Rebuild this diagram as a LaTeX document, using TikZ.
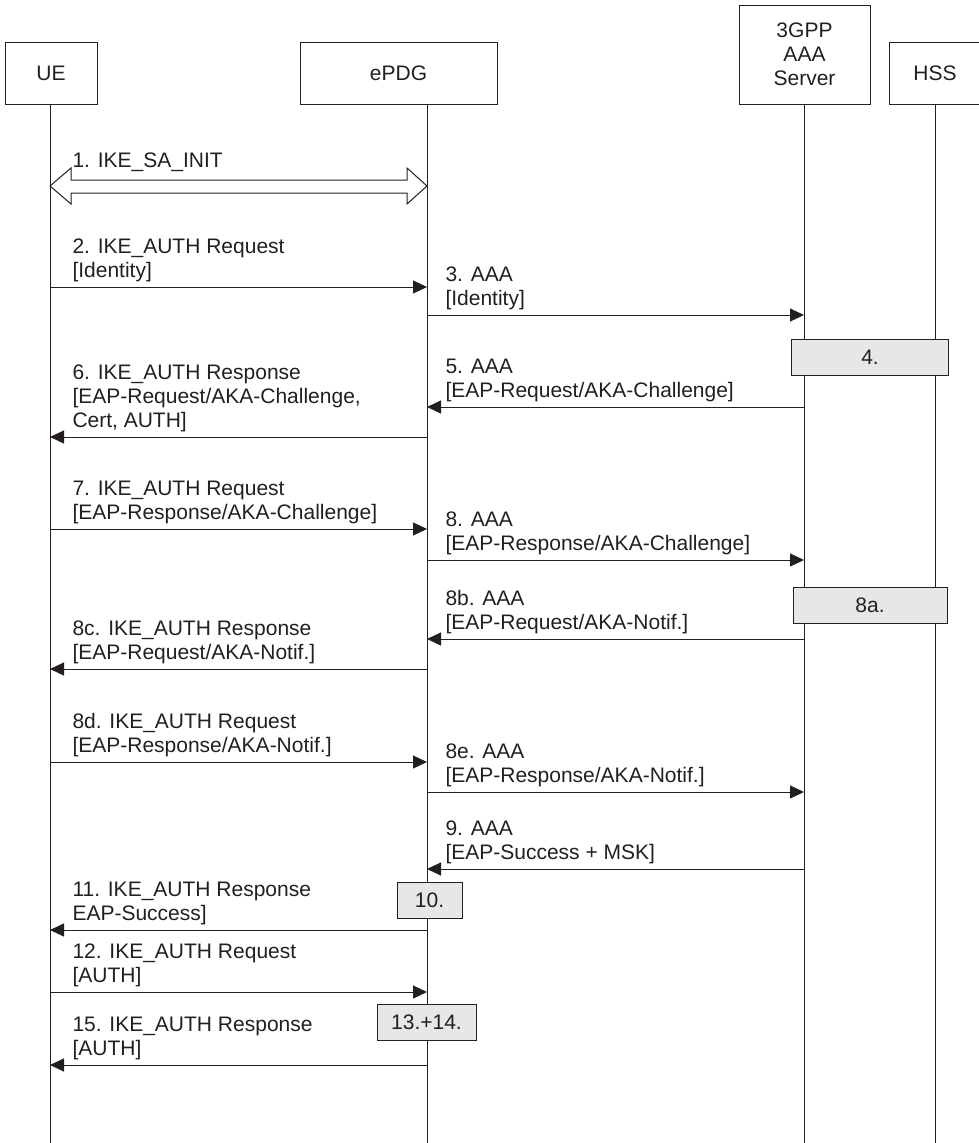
\documentclass[tikz,border=0pt]{standalone}
\usepackage{fontspec}
\setmainfont{Liberation Sans}
\usetikzlibrary{arrows.meta, positioning, calc}

\definecolor{ink}{RGB}{35,31,32}
\definecolor{stepgray}{RGB}{230,231,232}

\begin{document}
\begin{tikzpicture}[x=1pt, y=-1pt, line width=1pt, color=ink,
  font=\fontsize{21}{24}\selectfont,
  actor/.style={draw, minimum height=62pt, inner sep=0pt, align=center},
  msg/.style={-{Triangle[length=14pt, width=13pt]}},
  msgtext/.style={anchor=south west, align=left, inner sep=0pt},
  stepbox/.style={draw, fill=stepgray, minimum height=36pt, inner sep=0pt}]
  \useasboundingbox (0,0) rectangle (978,1143);

  % Teilnehmer
  \node[actor, minimum width=92pt] (ue) at (51,73) {UE};
  \node[actor, minimum width=197pt] (epdg) at (398.5,73) {ePDG};
  \node[actor, minimum width=131pt, minimum height=99pt] (aaa) at (804.5,54.5) {3GPP\\AAA\\Server};
  \node[actor, minimum width=92pt] (hss) at (935,73) {HSS};

  % Lebenslinien
  \foreach \a/\x in {ue/50, epdg/427, aaa/804, hss/935} {
    \coordinate (\a-top) at (\x,104);
    \coordinate (\a-bot) at (\x,1143);
    \draw (\a-top) -- (\a-bot);
  }

  % 1. IKE_SA_INIT (Doppelpfeil)
  \coordinate (m1a) at (ue-top |- 0,186);
  \coordinate (m1b) at (epdg-top |- 0,186);
  \draw[fill=white] (m1a) -- ++(21,-18) -- ++(0,12) -- ($(m1b)+(-20,-6)$) -- ++(0,-12)
    -- (m1b) -- ++(-20,18) -- ++(0,-11) -- ($(m1a)+(21,7)$) -- ++(0,11) -- cycle;
  \node[anchor=base west, inner sep=0pt] (t1) at (72,167) {1. IKE\_SA\_INIT};

  % Nachrichten
  \draw[msg] (ue-top |- 0,287) -- (epdg-top |- 0,287);
  \node[msgtext] (t2) at (72,282) {2. IKE\_AUTH Request\\{}[Identity]};

  \draw[msg] (epdg-top |- 0,315) -- (aaa-top |- 0,315);
  \node[msgtext] (t3) at (445,310) {3. AAA\\{}[Identity]};

  \draw[msg] (aaa-top |- 0,407) -- (epdg-top |- 0,407);
  \node[msgtext] (t5) at (445,402) {5. AAA\\{}[EAP-Request/AKA-Challenge]};

  \draw[msg] (epdg-top |- 0,437) -- (ue-top |- 0,437);
  \node[msgtext] (t6) at (72,432) {6. IKE\_AUTH Response\\{}[EAP-Request/AKA-Challenge,\\Cert, AUTH]};

  \draw[msg] (ue-top |- 0,529) -- (epdg-top |- 0,529);
  \node[msgtext] (t7) at (72,524) {7. IKE\_AUTH Request\\{}[EAP-Response/AKA-Challenge]};

  \draw[msg] (epdg-top |- 0,560) -- (aaa-top |- 0,560);
  \node[msgtext] (t8) at (445,555) {8. AAA\\{}[EAP-Response/AKA-Challenge]};

  \draw[msg] (aaa-top |- 0,639) -- (epdg-top |- 0,639);
  \node[msgtext] (t8b) at (445,634) {8b. AAA\\{}[EAP-Request/AKA-Notif.]};

  \draw[msg] (epdg-top |- 0,669) -- (ue-top |- 0,669);
  \node[msgtext] (t8c) at (72,664) {8c. IKE\_AUTH Response\\{}[EAP-Request/AKA-Notif.]};

  \draw[msg] (ue-top |- 0,762) -- (epdg-top |- 0,762);
  \node[msgtext] (t8d) at (72,757) {8d. IKE\_AUTH Request\\{}[EAP-Response/AKA-Notif.]};

  \draw[msg] (epdg-top |- 0,792) -- (aaa-top |- 0,792);
  \node[msgtext] (t8e) at (445,787) {8e. AAA\\{}[EAP-Response/AKA-Notif.]};

  \draw[msg] (aaa-top |- 0,869) -- (epdg-top |- 0,869);
  \node[msgtext] (t9) at (445,864) {9. AAA\\{}[EAP-Success + MSK]};

  \draw[msg] (epdg-top |- 0,930) -- (ue-top |- 0,930);
  \node[msgtext] (t11) at (72,925) {11. IKE\_AUTH Response\\EAP-Success]};

  \draw[msg] (ue-top |- 0,992) -- (epdg-top |- 0,992);
  \node[msgtext] (t12) at (72,987) {12. IKE\_AUTH Request\\{}[AUTH]};

  \draw[msg] (epdg-top |- 0,1065) -- (ue-top |- 0,1065);
  \node[msgtext] (t15) at (72,1060) {15. IKE\_AUTH Response\\{}[AUTH]};

  % Verarbeitungsschritte
  \node[stepbox, minimum width=157pt] (s4) at (870,357.5) {4.};
  \node[stepbox, minimum width=154pt] (s8a) at (870,605.5) {8a.};
  \node[stepbox, minimum width=65pt] (s10) at (429.5,900) {10.};
  \node[stepbox, minimum width=99pt] (s13) at (426.5,1022) {13.+14.};
\end{tikzpicture}
\end{document}
